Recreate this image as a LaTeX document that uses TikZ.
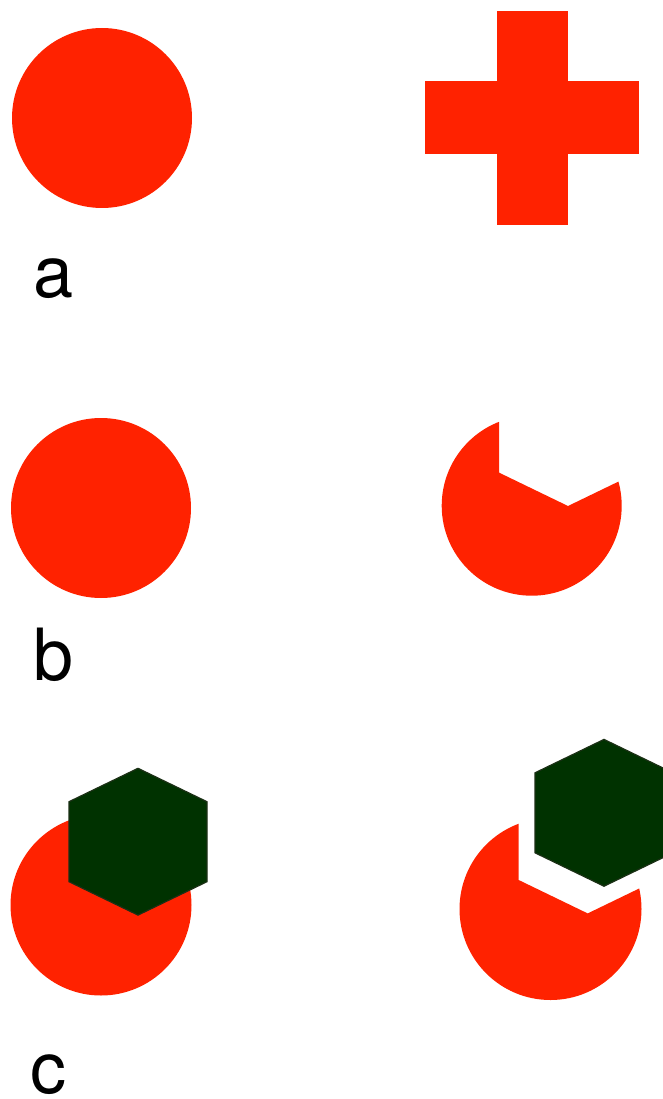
\documentclass[tikz,border=0pt]{standalone}
\usepackage{fontspec}
\setmainfont{TeX Gyre Heros}
\definecolor{figred}{RGB}{255,34,0}
\definecolor{hexgreen}{RGB}{0,50,0}
\definecolor{hexedge}{RGB}{28,48,22}

% hexagon around a centre point (picture units)
\newcommand{\hexagonat}[2]{({#1},{#2-73.4}) -- ({#1+69},{#2-40}) -- ({#1+69},{#2+40}) -- ({#1},{#2+73.4}) -- ({#1-69},{#2+40}) -- ({#1-69},{#2-40}) -- cycle}

\begin{document}
\begin{tikzpicture}[
    x=1pt, y=-1pt,
    redshape/.style={fill=figred},
    hexshape/.style={fill=hexgreen, draw=hexedge, line width=1.2pt, line join=miter},
    panel/.style={anchor=base west, inner sep=0pt, font=\fontsize{72}{72}\selectfont}
]

% Frame
\clip (0,0) rectangle (663,1099);

% Row a
\fill[redshape] (102,118) circle (90);
\fill[redshape] (496.7,10.7) rectangle (568.3,225);
\fill[redshape] (425,81) rectangle (639.3,154);
\node[panel] (lbla) at (33,297) {a};

% Row b
\fill[redshape] (101,508) circle (90);
\begin{scope}[even odd rule]
  \clip (0,0) rectangle (663,1099) \hexagonat{568}{432.6};
  \fill[redshape] (531.7,505.7) circle (90);
\end{scope}
\node[panel] (lblb) at (33,680) {b};

% Row c
\fill[redshape] (101,905) circle (90.5);
\draw[hexshape] \hexagonat{138}{841.7};
\begin{scope}[even odd rule]
  \clip (0,0) rectangle (663,1099) \hexagonat{587.7}{840};
  \fill[redshape] (550.5,909) circle (91);
\end{scope}
\draw[hexshape] \hexagonat{604}{812.8};
\node[panel] (lblc) at (30,1093) {c};

\end{tikzpicture}
\end{document}
